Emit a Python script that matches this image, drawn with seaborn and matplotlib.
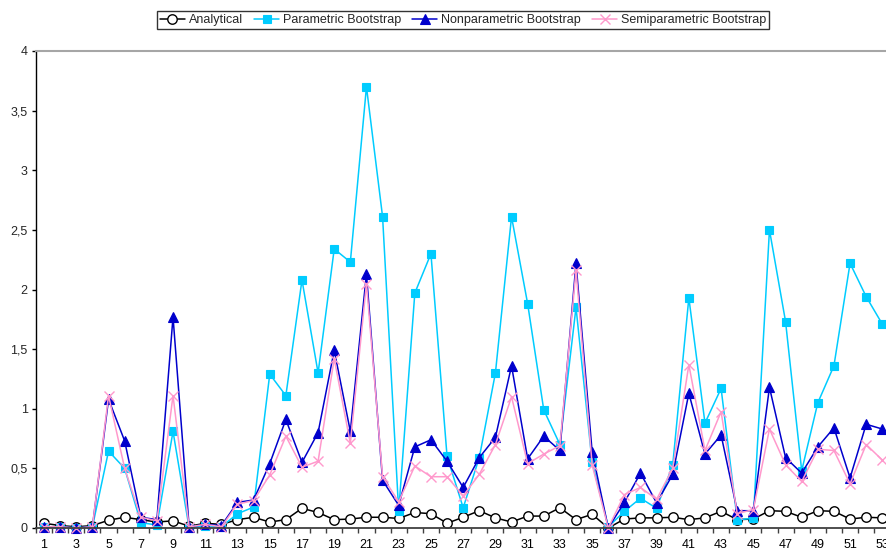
import matplotlib
matplotlib.use("Agg")
import matplotlib.pyplot as plt
import seaborn as sns
from matplotlib.ticker import FixedLocator, FuncFormatter

sns.set_style("white")
plt.rcParams['font.family'] = ['Liberation Sans', 'DejaVu Sans']

# ---- data ----
obs = list(range(1, 54))

analytical = [0.04, 0.02, 0.01, 0.02, 0.065, 0.09, 0.07, 0.05, 0.06, 0.015,
              0.04, 0.03, 0.07, 0.09, 0.05, 0.07, 0.165, 0.13, 0.07, 0.075,
              0.09, 0.09, 0.08, 0.13, 0.12, 0.04, 0.09, 0.145, 0.085, 0.05,
              0.10, 0.10, 0.17, 0.07, 0.115, 0.0, 0.075, 0.085, 0.085, 0.09,
              0.07, 0.085, 0.14, 0.07, 0.075, 0.145, 0.14, 0.09, 0.145, 0.14,
              0.075, 0.09, 0.085]

parametric = [0.01, 0.01, 0.0, 0.01, 0.645, 0.50, 0.045, 0.025, 0.81, 0.0,
              0.02, 0.01, 0.12, 0.175, 1.29, 1.11, 2.08, 1.30, 2.34, 2.23,
              3.70, 2.61, 0.14, 1.97, 2.30, 0.60, 0.17, 0.59, 1.30, 2.61,
              1.88, 0.99, 0.70, 1.85, 0.55, 0.01, 0.14, 0.25, 0.165, 0.53,
              1.93, 0.88, 1.17, 0.07, 0.08, 2.50, 1.73, 0.48, 1.05, 1.36,
              2.22, 1.94, 1.71]

nonparametric = [0.01, 0.01, 0.0, 0.01, 1.08, 0.73, 0.09, 0.07, 1.77, 0.01,
                 0.03, 0.02, 0.215, 0.235, 0.54, 0.91, 0.55, 0.80, 1.49, 0.81,
                 2.13, 0.40, 0.19, 0.68, 0.74, 0.56, 0.34, 0.59, 0.76, 1.36,
                 0.58, 0.77, 0.65, 2.22, 0.64, 0.0, 0.215, 0.46, 0.21, 0.45,
                 1.13, 0.62, 0.78, 0.145, 0.145, 1.18, 0.59, 0.46, 0.68, 0.84,
                 0.42, 0.87, 0.83]

semiparametric = [0.01, 0.01, 0.0, 0.01, 1.11, 0.50, 0.09, 0.06, 1.11, 0.01,
                  0.03, 0.01, 0.20, 0.23, 0.445, 0.77, 0.51, 0.56, 1.42, 0.71,
                  2.05, 0.43, 0.22, 0.52, 0.43, 0.43, 0.27, 0.45, 0.70, 1.10,
                  0.54, 0.62, 0.69, 2.16, 0.53, 0.0, 0.28, 0.34, 0.24, 0.50,
                  1.37, 0.65, 0.975, 0.12, 0.155, 0.83, 0.53, 0.39, 0.66, 0.65,
                  0.37, 0.70, 0.57]

series_names = ["Analytical", "Parametric Bootstrap",
                "Nonparametric Bootstrap", "Semiparametric Bootstrap"]
x_tick_values = [1, 3, 5, 7, 9, 11, 13, 15, 17, 19, 21, 23, 25, 27, 29, 31,
                 33, 35, 37, 39, 41, 43, 45, 47, 49, 51, 53]
y_tick_values = [0, 0.5, 1, 1.5, 2, 2.5, 3, 3.5, 4]

# ---- styles ----
styles = [
    dict(color="black", marker="o", markerfacecolor="white",
         markeredgecolor="black", markersize=6.8, markeredgewidth=1.0),
    dict(color="#00CCFF", marker="s", markerfacecolor="#00CCFF",
         markeredgecolor="#00CCFF", markersize=6.4, markeredgewidth=0.8),
    dict(color="#0000CC", marker="^", markerfacecolor="#0000CC",
         markeredgecolor="#0000CC", markersize=7.4, markeredgewidth=0.8),
    dict(color="#FF99CC", marker="x", markerfacecolor="#FF99CC",
         markeredgecolor="#FF99CC", markersize=7.6, markeredgewidth=1.0),
]

fig = plt.figure(figsize=(8.86, 5.5), dpi=100)
ax = fig.add_axes([36 / 886, 22 / 550, 850 / 886, 477 / 550])

for name, vals, st in zip(series_names,
                          [analytical, parametric, nonparametric, semiparametric],
                          styles):
    sns.lineplot(x=obs, y=vals, ax=ax, label=name, errorbar=None,
                 linewidth=1.1, clip_on=False, **st)

if ax.get_legend() is not None:
    ax.get_legend().remove()

ax.set_xlim(0.5, 53.23)
ax.set_ylim(0, 4)

ax.xaxis.set_major_locator(FixedLocator(x_tick_values))
ax.xaxis.set_minor_locator(FixedLocator([v + 0.5 for v in range(0, 54)]))
ax.set_xticklabels([str(v) for v in x_tick_values])
ax.yaxis.set_major_locator(FixedLocator(y_tick_values))
ax.yaxis.set_major_formatter(FuncFormatter(lambda v, p: f"{v:g}".replace(".", ",")))

ax.tick_params(axis="x", which="major", length=0, pad=8, labelsize=9,
               colors="black")
ax.tick_params(axis="x", which="minor", length=3.5, width=1.0,
               direction="out", color="#404040", bottom=True)
ax.tick_params(axis="y", which="major", length=3, width=1.0,
               direction="out", pad=3, labelsize=9, color="black", left=True)

ax.set_xlabel("")
ax.set_ylabel("")
ax.grid(False)

ax.spines["left"].set_color("black")
ax.spines["left"].set_linewidth(1.0)
ax.spines["bottom"].set_color("#404040")
ax.spines["bottom"].set_linewidth(1.3)
ax.spines["top"].set_color("#A6A6A6")
ax.spines["top"].set_linewidth(1.5)
ax.spines["right"].set_visible(False)

handles, labels = ax.get_legend_handles_labels()
leg = fig.legend(handles, labels, loc="center",
                 bbox_to_anchor=(463 / 886, 1 - 20 / 550), ncol=4,
                 frameon=True, fancybox=False, edgecolor="black",
                 fontsize=9, handlelength=2.0, handletextpad=0.3,
                 columnspacing=0.9, borderpad=0.25, borderaxespad=0)
leg.get_frame().set_linewidth(1.0)

fig.savefig("out.png", dpi=100)
